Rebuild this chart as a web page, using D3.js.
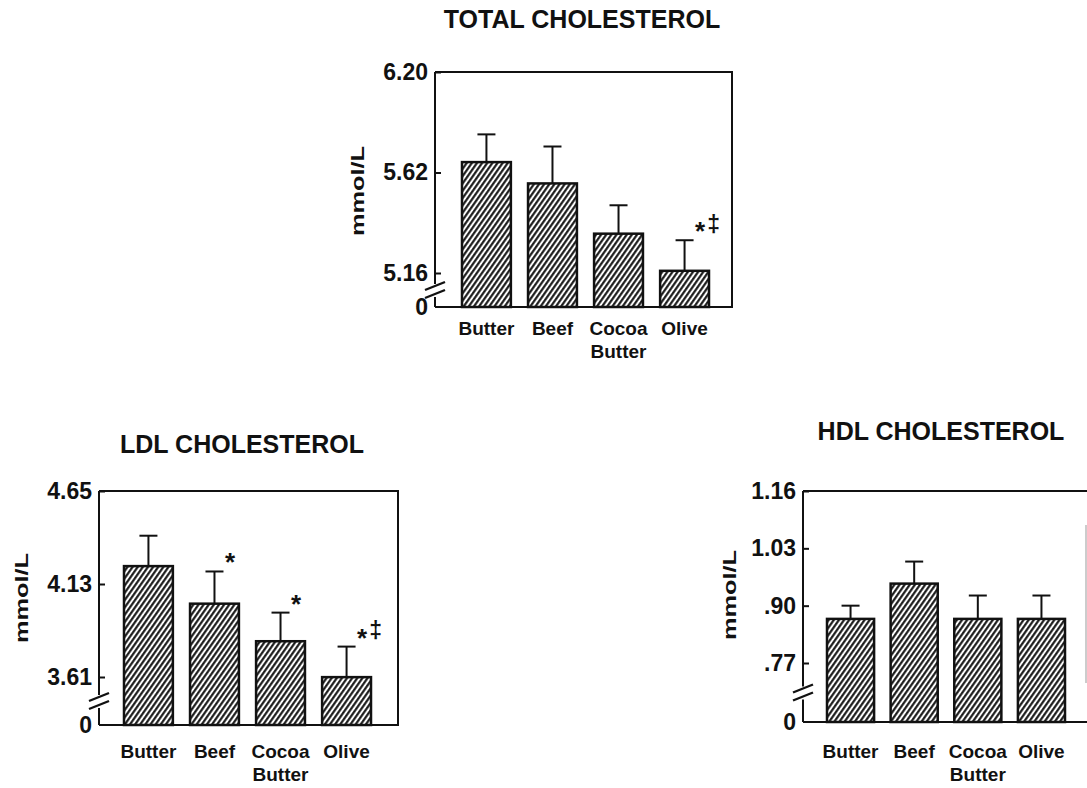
<!DOCTYPE html>
<html>
<head>
<meta charset="utf-8">
<script src="https://d3js.org/d3.v7.min.js"></script>
<style>
    body { margin: 0; background: #fff; }
    svg text { font-family: "Liberation Sans", Arial, Helvetica, sans-serif; font-weight: bold; fill: #111; }
</style>
</head>
<body>
<svg id="chart" width="1087" height="788"></svg>
<script>
// Diet study: serum cholesterol by dietary fat, mean + SE
var categories = ['Butter', 'Beef', 'Cocoa Butter', 'Olive'];

var totalMeans = [5.68, 5.57, 5.34, 5.17],
    totalSE = [0.16, 0.20, 0.13, 0.14],
    totalTicks = [5.16, 5.62, 6.20],
    totalTickLabels = ['5.16', '5.62', '6.20'],
    totalMarks = ['', '', '', '*‡'];

var ldlMeans = [4.23, 4.02, 3.81, 3.60],
    ldlSE = [0.17, 0.18, 0.16, 0.18],
    ldlTicks = [3.61, 4.13, 4.65],
    ldlTickLabels = ['3.61', '4.13', '4.65'],
    ldlMarks = ['', '*', '*', '*‡'];

var hdlMeans = [0.87, 0.95, 0.87, 0.87],
    hdlSE = [0.03, 0.05, 0.053, 0.053],
    hdlTicks = [0.77, 0.90, 1.03, 1.16],
    hdlTickLabels = ['.77', '.90', '1.03', '1.16'],
    hdlMarks = ['', '', '', ''];

var svg = d3.select('#chart');

// diagonal hatching used for every bar
var defs = svg.append('defs');
defs.append('pattern')
    .attr('id', 'hatch')
    .attr('patternUnits', 'userSpaceOnUse')
    .attr('width', 4.2)
    .attr('height', 10)
    .attr('patternTransform', 'rotate(35)')
    .call(function(p) {
        p.append('rect').attr('width', 4.2).attr('height', 10).attr('fill', '#fff');
        p.append('line')
            .attr('x1', 1.2).attr('x2', 1.2)
            .attr('y1', 0).attr('y2', 10)
            .attr('stroke', '#111')
            .attr('stroke-width', 2.1);
    });

var panels = [
    {
        title: 'TOTAL CHOLESTEROL', means: totalMeans, se: totalSE,
        ticks: totalTicks, tickLabels: totalTickLabels, marks: totalMarks,
        left: 435, right: 732, top: 72, lowTickY: 273, bottom: 307,
        barFrom: 462, barTo: 709,
        titleX: 582, titleY: 28, yLabelX: 357, yLabelY: 191, catY: 335
    },
    {
        title: 'LDL CHOLESTEROL', means: ldlMeans, se: ldlSE,
        ticks: ldlTicks, tickLabels: ldlTickLabels, marks: ldlMarks,
        left: 99, right: 398, top: 491, lowTickY: 677, bottom: 725,
        barFrom: 124, barTo: 371,
        titleX: 242, titleY: 453, yLabelX: 21, yLabelY: 598, catY: 758
    },
    {
        title: 'HDL CHOLESTEROL', means: hdlMeans, se: hdlSE,
        ticks: hdlTicks, tickLabels: hdlTickLabels, marks: hdlMarks,
        left: 803, right: 1110, top: 491, lowTickY: 663, bottom: 722,
        barFrom: 827, barTo: 1065,
        titleX: 941, titleY: 440, yLabelX: 729, yLabelY: 595, catY: 758,
        faintRight: 1086
    }
];

panels.forEach(drawPanel);

function drawPanel(p) {
    var g = svg.append('g');
    var n = p.ticks.length;

    // ticks are evenly spaced on the page, so the scale is piecewise
    var tickYs = p.ticks.map(function(t, i) {
        return p.lowTickY + (p.top - p.lowTickY) * i / (n - 1);
    });
    var y = d3.scaleLinear()
        .domain([0].concat(p.ticks))
        .range([p.bottom].concat(tickYs));

    var x = d3.scaleBand()
        .domain(categories)
        .range([p.barFrom, p.barTo])
        .paddingInner(0.26)
        .paddingOuter(0);

    var breakY = (p.lowTickY + p.bottom) / 2;

    // frame: top, right, bottom
    g.append('path')
        .attr('d', 'M' + p.left + ',' + p.top + 'H' + p.right + 'V' + p.bottom + 'H' + p.left)
        .attr('fill', 'none')
        .attr('stroke', '#111')
        .attr('stroke-width', 2);

    if (p.faintRight) {
        g.append('line')
            .attr('x1', p.faintRight).attr('x2', p.faintRight)
            .attr('y1', 525).attr('y2', 683)
            .attr('stroke', '#bbb')
            .attr('stroke-width', 1.5);
    }

    // left axis with break
    g.append('line')
        .attr('x1', p.left).attr('x2', p.left)
        .attr('y1', p.top).attr('y2', breakY - 6)
        .attr('stroke', '#111').attr('stroke-width', 2);
    g.append('line')
        .attr('x1', p.left).attr('x2', p.left)
        .attr('y1', breakY + 7).attr('y2', p.bottom)
        .attr('stroke', '#111').attr('stroke-width', 2);
    [-4, 4].forEach(function(off) {
        g.append('line')
            .attr('x1', p.left - 10).attr('y1', breakY + off + 4)
            .attr('x2', p.left + 10).attr('y2', breakY + off - 4)
            .attr('stroke', '#111').attr('stroke-width', 2.4);
    });

    var axis = d3.axisLeft(y)
        .tickValues([0].concat(p.ticks))
        .tickFormat(function(d, i) { return i === 0 ? '0' : p.tickLabels[i - 1]; })
        .tickSizeInner(-6)
        .tickSizeOuter(0)
        .tickPadding(7);

    var ax = g.append('g')
        .attr('transform', 'translate(' + p.left + ',0)')
        .call(axis);
    ax.select('.domain').remove();
    ax.selectAll('.tick line').attr('stroke', '#111').attr('stroke-width', 2);
    ax.selectAll('.tick').filter(function(d) { return d === 0; }).select('line').remove();
    ax.selectAll('.tick text')
        .attr('font-size', 23)
        .attr('font-family', '"Liberation Sans", Arial, sans-serif')
        .attr('font-weight', 'bold')
        .attr('fill', '#111');

    // bars
    g.selectAll('rect.bar')
        .data(p.means)
        .enter().append('rect')
        .attr('class', 'bar')
        .attr('x', function(d, i) { return x(categories[i]); })
        .attr('y', function(d) { return y(d); })
        .attr('width', x.bandwidth())
        .attr('height', function(d) { return y(0) - y(d); })
        .attr('fill', 'url(#hatch)')
        .attr('stroke', '#111')
        .attr('stroke-width', 2.5);

    // upper error bars
    p.means.forEach(function(m, i) {
        var cx = x(categories[i]) + x.bandwidth() / 2,
            yTop = y(m + p.se[i]);
        g.append('line')
            .attr('x1', cx).attr('x2', cx)
            .attr('y1', y(m)).attr('y2', yTop)
            .attr('stroke', '#111').attr('stroke-width', 2);
        g.append('line')
            .attr('x1', cx - 9).attr('x2', cx + 9)
            .attr('y1', yTop).attr('y2', yTop)
            .attr('stroke', '#111').attr('stroke-width', 2);

        // significance marks
        if (p.marks[i]) {
            var t = g.append('text')
                .attr('x', x(categories[i]) + x.bandwidth() - 14)
                .attr('y', yTop)
                .attr('font-size', 26);
            p.marks[i].split('').forEach(function(ch) {
                var ts = t.append('tspan').text(ch);
                if (ch === '‡') ts.attr('dx', 2).attr('font-size', 23).attr('dy', -8.5);
            });
        }
    });

    // category labels
    categories.forEach(function(c) {
        var words = c.split(' ');
        var t = g.append('text')
            .attr('x', x(c) + x.bandwidth() / 2)
            .attr('y', p.catY)
            .attr('text-anchor', 'middle')
            .attr('font-size', 19);
        words.forEach(function(w, j) {
            t.append('tspan')
                .attr('x', x(c) + x.bandwidth() / 2)
                .attr('dy', j === 0 ? 0 : 23)
                .text(w);
        });
    });

    // title and unit label
    g.append('text')
        .attr('x', p.titleX)
        .attr('y', p.titleY)
        .attr('text-anchor', 'middle')
        .attr('font-size', 25)
        .text(p.title);

    g.append('text')
        .attr('transform', 'translate(' + (p.yLabelX + 7) + ',' + p.yLabelY + ') rotate(-90)')
        .attr('text-anchor', 'middle')
        .attr('font-size', 19)
        .attr('textLength', 90)
        .attr('lengthAdjust', 'spacingAndGlyphs')
        .text('mmol/L');
}
</script>
</body>
</html>
